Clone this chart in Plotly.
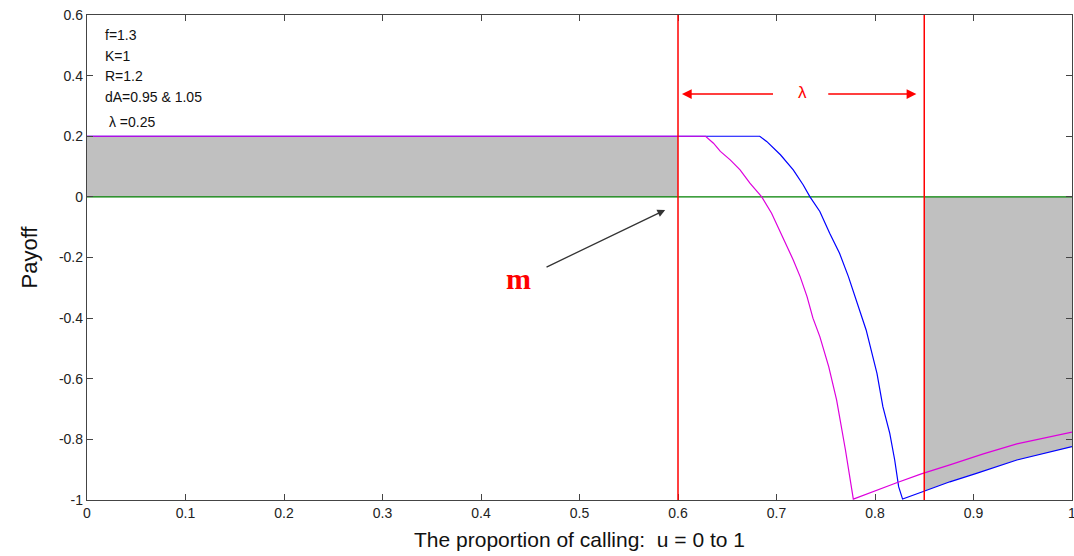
import plotly.graph_objects as go

# payoff curves
u_magenta = [0, 0.628, 0.636, 0.643, 0.653, 0.663, 0.673, 0.685, 0.695, 0.703, 0.710,
             0.717, 0.724, 0.731, 0.737, 0.744, 0.753, 0.761, 0.770, 0.778,
             0.822, 0.847, 0.876, 0.910, 0.944, 1.0]
payoff_magenta = [0.2, 0.2, 0.177, 0.150, 0.122, 0.089, 0.045, 0.0, -0.054, -0.109, -0.158,
                  -0.208, -0.263, -0.329, -0.40, -0.461, -0.56, -0.67, -0.835, -0.997,
                  -0.943, -0.914, -0.884, -0.848, -0.815, -0.776]

u_blue = [0, 0.683, 0.690, 0.704, 0.717, 0.727, 0.734, 0.744, 0.754, 0.764, 0.773, 0.781,
          0.791, 0.802, 0.808, 0.815, 0.820, 0.824, 0.828,
          0.849, 0.876, 0.903, 0.944, 1.0]
payoff_blue = [0.2, 0.2, 0.183, 0.139, 0.089, 0.040, 0.0, -0.048, -0.12, -0.186, -0.263, -0.34,
               -0.439, -0.582, -0.692, -0.78, -0.868, -0.956, -0.997,
               -0.972, -0.94, -0.912, -0.868, -0.824]

m_pos = 0.6
m_lambda = 0.85
top_payoff = 0.2

# shaded regions
shade_left_x = [0, m_pos]
shade_left_y = [top_payoff, top_payoff]
shade_right_x = [m_lambda] + [u for u in u_blue if u > m_lambda]
shade_right_y = [-0.97] + [p for u, p in zip(u_blue, payoff_blue) if u > m_lambda]

params = ["f=1.3", "K=1", "R=1.2", "dA=0.95 & 1.05", " \u03bb =0.25"]
params_y = [0.535, 0.465, 0.399, 0.33, 0.248]

xticks = [0, 0.1, 0.2, 0.3, 0.4, 0.5, 0.6, 0.7, 0.8, 0.9, 1]
xtick_text = ["0", "0.1", "0.2", "0.3", "0.4", "0.5", "0.6", "0.7", "0.8", "0.9", "1"]
yticks = [-1, -0.8, -0.6, -0.4, -0.2, 0, 0.2, 0.4, 0.6]
ytick_text = ["-1", "-0.8", "-0.6", "-0.4", "-0.2", "0", "0.2", "0.4", "0.6"]

GRAY = "#c0c0c0"
font = "Liberation Sans, Arial, sans-serif"

fig = go.Figure()
fig.add_trace(go.Scatter(x=shade_left_x, y=shade_left_y, fill="tozeroy", fillcolor=GRAY,
                         mode="lines", line=dict(width=0), hoverinfo="skip"))
fig.add_trace(go.Scatter(x=shade_right_x, y=shade_right_y, fill="tozeroy", fillcolor=GRAY,
                         mode="lines", line=dict(width=0), hoverinfo="skip"))
fig.add_trace(go.Scatter(x=[0, 1], y=[0, 0], mode="lines", line=dict(color="#008000", width=1.3)))
fig.add_trace(go.Scatter(x=u_blue, y=payoff_blue, mode="lines", line=dict(color="#0000ff", width=1.2)))
fig.add_trace(go.Scatter(x=u_magenta, y=payoff_magenta, mode="lines",
                         line=dict(color="#dd00dd", width=1.2)))

for xv in [m_pos, m_lambda]:
    fig.add_shape(type="line", x0=xv, x1=xv, y0=-1, y1=0.6, xref="x", yref="y",
                  line=dict(color="#ff0000", width=1.5))

anns = []
for t, yv in zip(params, params_y):
    anns.append(dict(x=0.016, y=yv, text=t, showarrow=False, xanchor="left",
                     font=dict(family=font, size=14, color="#111")))

# lambda double arrow
lam_y = 0.339
anns.append(dict(x=0.604, y=lam_y, ax=0.698, ay=lam_y, axref="x", ayref="y", text="",
                 showarrow=True, arrowhead=2, arrowsize=1.3, arrowwidth=1.5, arrowcolor="#ff0000"))
anns.append(dict(x=0.842, y=lam_y, ax=0.751, ay=lam_y, axref="x", ayref="y", text="",
                 showarrow=True, arrowhead=2, arrowsize=1.3, arrowwidth=1.5, arrowcolor="#ff0000"))
anns.append(dict(x=0.726, y=lam_y + 0.005, text="\u03bb", showarrow=False,
                 font=dict(family=font, size=17, color="#ff0000")))

# m marker arrow
anns.append(dict(x=0.587, y=-0.043, ax=0.465, ay=-0.234, axref="x", ayref="y", text="",
                 showarrow=True, arrowhead=2, arrowsize=1.2, arrowwidth=1.3, arrowcolor="#333"))
anns.append(dict(x=0.4376, y=-0.27, text="<b>m</b>", showarrow=False,
                 font=dict(family="Liberation Serif, Times New Roman, serif", size=30, color="#ff0000")))

fig.update_layout(
    width=1074, height=556,
    margin=dict(l=87, r=2, t=15, b=56),
    paper_bgcolor="white", plot_bgcolor="white",
    showlegend=False,
    annotations=anns,
    font=dict(family=font, color="#222"),
)
fig.update_xaxes(range=[0, 1], tickvals=xticks, ticktext=xtick_text, ticks="inside",
                 ticklen=6, tickcolor="#444", showline=True, linecolor="#444", linewidth=1.3,
                 mirror="ticks", showgrid=False, zeroline=False, tickfont=dict(size=14),
                 automargin=False, ticklabeloverflow="allow",
                 title=dict(text="The proportion of calling:  u = 0 to 1", font=dict(size=21, color="#111"),
                            standoff=12))
fig.update_yaxes(range=[-1, 0.6], tickvals=yticks, ticktext=ytick_text, ticks="inside",
                 ticklen=6, tickcolor="#444", showline=True, linecolor="#444", linewidth=1.3,
                 mirror="ticks", showgrid=False, zeroline=False, tickfont=dict(size=14),
                 automargin=False,
                 title=dict(text="Payoff", font=dict(size=22, color="#111"), standoff=15))

fig.write_html("out.html", config={"displayModeBar": False},
               post_script="document.body.style.margin='0';document.body.style.overflow='hidden';")
